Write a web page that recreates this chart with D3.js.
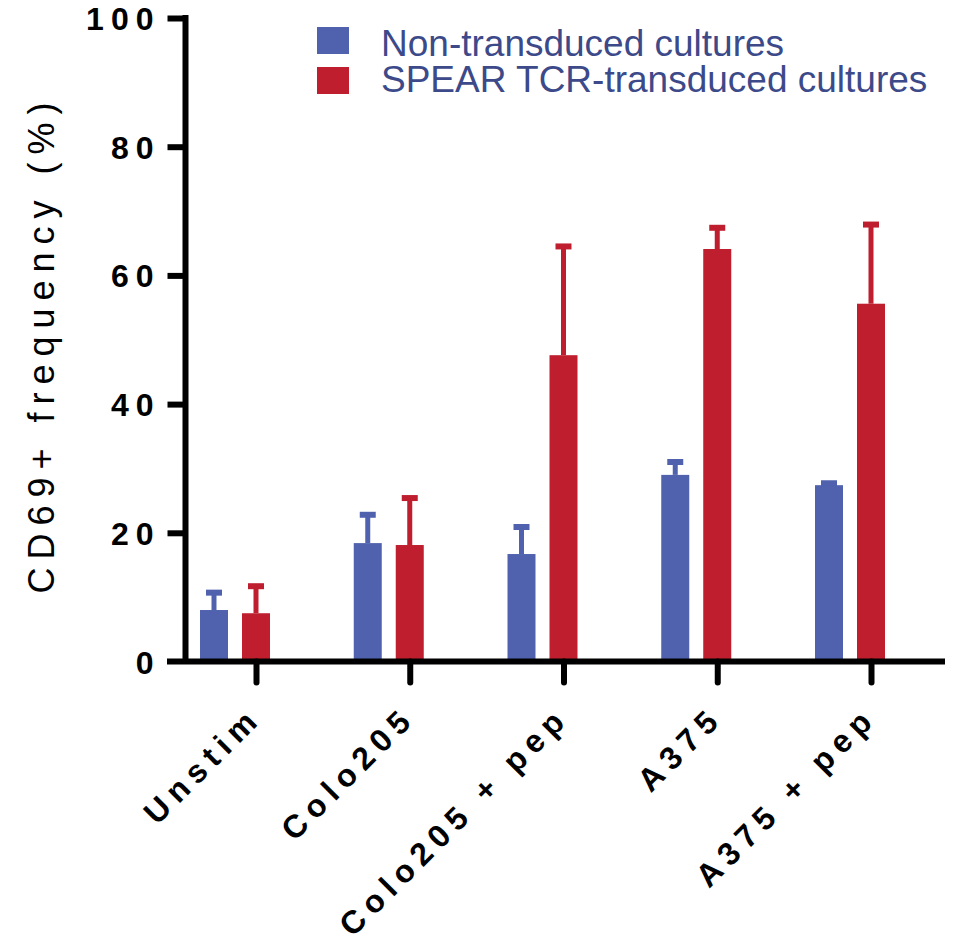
<!DOCTYPE html>
<html>
<head>
<meta charset="utf-8">
<script src="https://cdn.jsdelivr.net/npm/d3@7"></script>
<style>
  html, body { margin: 0; padding: 0; background: #fff; }
  svg { display: block; }
</style>
</head>
<body>
<svg id="chart" width="959" height="941"></svg>
<script>
const categories = ["Unstim", "Colo205", "Colo205 + pep", "A375", "A375 + pep"];
const nonTransduced = [8.0, 18.4, 16.7, 29.0, 27.4];
const nonTransducedErr = [2.7, 4.4, 4.2, 2.0, 0.3];
const spear = [7.5, 18.1, 47.6, 64.1, 55.6];
const spearErr = [4.2, 7.3, 16.9, 3.3, 12.3];
const yTicks = [0, 20, 40, 60, 80, 100];
const seriesNames = ["Non-transduced cultures", "SPEAR TCR-transduced cultures"];
const colors = ["#5062AE", "#BE1E2D"];

const svg = d3.select("#chart");
const y = d3.scaleLinear().domain([0, 100]).range([661.5, 18]);
const x = d3.scalePoint().domain(categories).range([256, 871]);
const axisX = 185.5;
const barW = 28;
const offsets = [-42, 0];

// bars + error bars
const series = [
  { vals: nonTransduced, errs: nonTransducedErr, color: colors[0], off: offsets[0] },
  { vals: spear, errs: spearErr, color: colors[1], off: offsets[1] }
];
series.forEach(s => {
  const g = svg.append("g");
  categories.forEach((c, i) => {
    const cx = x(c) + s.off;
    g.append("line")
      .attr("x1", cx).attr("x2", cx)
      .attr("y1", y(s.vals[i])).attr("y2", y(s.vals[i] + s.errs[i]))
      .attr("stroke", s.color).attr("stroke-width", 5);
    g.append("line")
      .attr("x1", cx - 8).attr("x2", cx + 8)
      .attr("y1", y(s.vals[i] + s.errs[i])).attr("y2", y(s.vals[i] + s.errs[i]))
      .attr("stroke", s.color).attr("stroke-width", 6);
    g.append("rect")
      .attr("x", cx - barW / 2).attr("width", barW)
      .attr("y", y(s.vals[i])).attr("height", y(0) - y(s.vals[i]))
      .attr("fill", s.color);
  });
});

// y axis
const yAxis = svg.append("g").attr("transform", `translate(${axisX},0)`)
  .call(d3.axisLeft(y).tickValues(yTicks).tickSize(18).tickSizeOuter(0).tickPadding(7));
yAxis.select(".domain").attr("stroke", "#000").attr("stroke-width", 6)
  .attr("d", `M0,${y(100) - 3}V${y(0)}`);
yAxis.selectAll(".tick line").attr("stroke", "#000").attr("stroke-width", 6);
yAxis.selectAll(".tick").filter(d => d === 0).select("line").remove();
yAxis.selectAll(".tick text")
  .attr("fill", "#000")
  .style("font-family", "'Liberation Sans', Arial, sans-serif")
  .style("font-size", "32px").style("font-weight", "bold")
  .style("letter-spacing", "7px")
  .attr("dy", "0.36em");

// x axis
svg.append("line")
  .attr("x1", 167).attr("x2", 945)
  .attr("y1", y(0)).attr("y2", y(0))
  .attr("stroke", "#000").attr("stroke-width", 6);
const xAxis = svg.append("g").attr("transform", `translate(0,${y(0)})`)
  .call(d3.axisBottom(x).tickSize(21).tickSizeOuter(0));
xAxis.select(".domain").remove();
xAxis.selectAll(".tick line").attr("stroke", "#000").attr("stroke-width", 6).attr("stroke-linecap", "round");
xAxis.selectAll(".tick text")
  .attr("fill", "#000")
  .attr("text-anchor", "end")
  .attr("y", 0).attr("dy", 0)
  .attr("transform", "translate(7,58) rotate(-45)")
  .style("font-family", "'Liberation Sans', Arial, sans-serif")
  .style("font-size", "32px").style("font-weight", "bold")
  .style("letter-spacing", "7px");

// y label
svg.append("text")
  .attr("transform", `translate(54,344) rotate(-90)`)
  .attr("text-anchor", "middle")
  .style("font-family", "'Liberation Sans', Arial, sans-serif")
  .style("font-size", "36px")
  .style("letter-spacing", "8px")
  .attr("fill", "#000")
  .text("CD69+ frequency (%)");

// legend
const legend = svg.append("g");
seriesNames.forEach((name, i) => {
  legend.append("rect")
    .attr("x", 317).attr("y", 27 + i * 40)
    .attr("width", 32).attr("height", 27)
    .attr("fill", colors[i]);
  legend.append("text")
    .attr("x", 381).attr("y", 56 + i * 36)
    .style("font-family", "'Liberation Sans', Arial, sans-serif")
    .style("font-size", "37px")
    .attr("fill", "#3C4A8A")
    .text(name);
});
</script>
</body>
</html>
